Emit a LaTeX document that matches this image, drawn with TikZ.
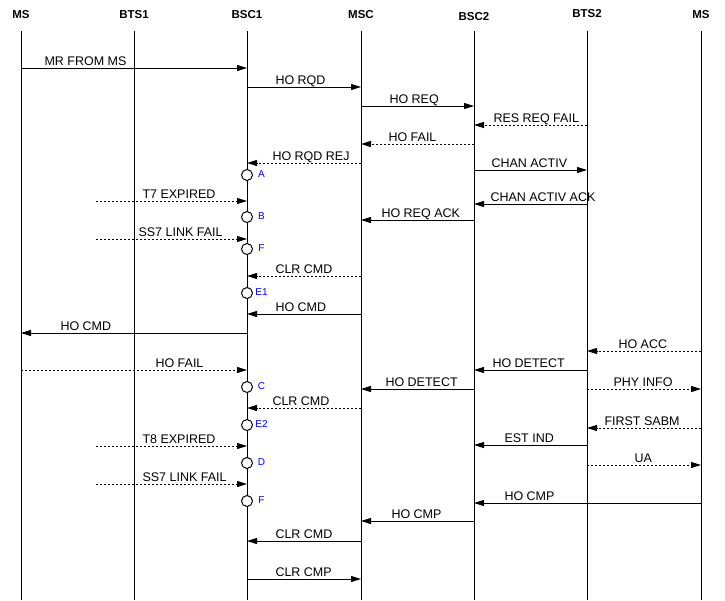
\documentclass[tikz,border=0pt]{standalone}
\usepackage{fontspec}
\setmainfont{Liberation Sans}
\usetikzlibrary{arrows.meta}
\definecolor{tagblue}{HTML}{0000FF}
\tikzset{
  head/.style={font=\fontsize{11.5}{13}\selectfont\bfseries,inner sep=0pt},
  life/.style={line width=1pt},
  sig/.style={line width=1pt,-{Triangle[length=10pt,width=6pt]}},
  sigdot/.style={sig,dash pattern=on 2pt off 2pt},
  lbl/.style={font=\fontsize{12.5}{14}\selectfont,inner sep=0pt,anchor=base west},
  state/.style={circle,draw,fill=white,line width=1pt,minimum size=11pt,inner sep=0pt},
  tag/.style={font=\fontsize{10}{12}\selectfont,text=tagblue,inner sep=0pt}
}

\begin{document}
\begin{tikzpicture}[x=1pt,y=-1pt]
  \useasboundingbox (0,0) rectangle (725,600);
  % lifelines
  \node[head] (ms) at (21,15) {MS};
  \node[head] (bts1) at (134,15) {BTS1};
  \node[head] (bsc1) at (247,15) {BSC1};
  \node[head] (msc) at (361,15) {MSC};
  \node[head] (bsc2) at (474,17) {BSC2};
  \node[head] (bts2) at (587,14) {BTS2};
  \node[head] (mst) at (701,15) {MS};
  \foreach \n in {ms,bts1,bsc1,msc,bsc2,bts2,mst}
    \draw[life] (\n|-0,31) -- (\n|-0,600);
  % timer / link events
  \coordinate (t7) at (96,201);
  \coordinate (ss7a) at (96,239);
  \coordinate (t8) at (96,446);
  \coordinate (ss7b) at (96,484);
  % messages
  \draw[sig] (ms|-0,68) -- (bsc1|-0,68) node[lbl] at (44,65) {MR FROM MS};
  \draw[sig] (bsc1|-0,87) -- (msc|-0,87) node[lbl] at (275,84) {HO RQD};
  \draw[sig] (msc|-0,106) -- (bsc2|-0,106) node[lbl] at (389,103) {HO REQ};
  \draw[sigdot] (bts2|-0,125) -- (bsc2|-0,125) node[lbl] at (493,122) {RES REQ FAIL};
  \draw[sigdot] (bsc2|-0,144) -- (msc|-0,144) node[lbl] at (388,141) {HO FAIL};
  \draw[sigdot] (msc|-0,163) -- (bsc1|-0,163) node[lbl] at (272,160) {HO RQD REJ};
  \draw[sig] (bsc2|-0,170) -- (bts2|-0,170) node[lbl] at (491,167) {CHAN ACTIV};
  \draw[sigdot] (t7) -- (bsc1|-t7) node[lbl] at (142,198) {T7 EXPIRED};
  \draw[sig] (bts2|-0,204) -- (bsc2|-0,204) node[lbl] at (490,201) {CHAN ACTIV ACK};
  \draw[sig] (bsc2|-0,220) -- (msc|-0,220) node[lbl] at (381,217) {HO REQ ACK};
  \draw[sigdot] (ss7a) -- (bsc1|-ss7a) node[lbl] at (138,236) {SS7 LINK FAIL};
  \draw[sigdot] (msc|-0,276) -- (bsc1|-0,276) node[lbl] at (275,273) {CLR CMD};
  \draw[sig] (msc|-0,314) -- (bsc1|-0,314) node[lbl] at (275,311) {HO CMD};
  \draw[sig] (bsc1|-0,333) -- (ms|-0,333) node[lbl] at (60,330) {HO CMD};
  \draw[sigdot] (mst|-0,351) -- (bts2|-0,351) node[lbl] at (618,348) {HO ACC};
  \draw[sigdot] (ms|-0,370) -- (bsc1|-0,370) node[lbl] at (155,367) {HO FAIL};
  \draw[sig] (bts2|-0,370) -- (bsc2|-0,370) node[lbl] at (492,367) {HO DETECT};
  \draw[sig] (bsc2|-0,389) -- (msc|-0,389) node[lbl] at (385,386) {HO DETECT};
  \draw[sigdot] (bts2|-0,389) -- (mst|-0,389) node[lbl] at (613,386) {PHY INFO};
  \draw[sigdot] (msc|-0,408) -- (bsc1|-0,408) node[lbl] at (272,405) {CLR CMD};
  \draw[sigdot] (mst|-0,428) -- (bts2|-0,428) node[lbl] at (604,425) {FIRST SABM};
  \draw[sigdot] (t8) -- (bsc1|-t8) node[lbl] at (142,443) {T8 EXPIRED};
  \draw[sig] (bts2|-0,445) -- (bsc2|-0,445) node[lbl] at (504,442) {EST IND};
  \draw[sigdot] (bts2|-0,465) -- (mst|-0,465) node[lbl] at (634,462) {UA};
  \draw[sigdot] (ss7b) -- (bsc1|-ss7b) node[lbl] at (142,481) {SS7 LINK FAIL};
  \draw[sig] (mst|-0,503) -- (bsc2|-0,503) node[lbl] at (504,500) {HO CMP};
  \draw[sig] (bsc2|-0,521) -- (msc|-0,521) node[lbl] at (391,518) {HO CMP};
  \draw[sig] (msc|-0,541) -- (bsc1|-0,541) node[lbl] at (275,538) {CLR CMD};
  \draw[sig] (bsc1|-0,579) -- (msc|-0,579) node[lbl] at (275,576) {CLR CMP};
  % states on BSC1
  \foreach \s/\y in {A/175,B/217,F/249,E1/293,C/387,E2/425,D/463,F/501}
    \node[state] (st\y) at (bsc1|-0,\y) {} node[tag] at ([xshift=8.5pt,yshift=1pt]st\y.east) {\s};
\end{tikzpicture}
\end{document}
